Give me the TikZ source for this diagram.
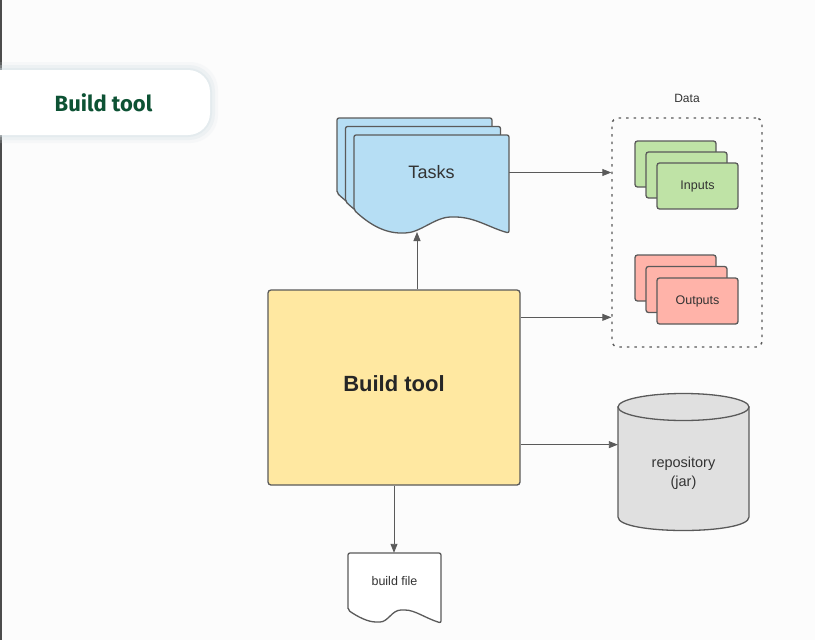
\documentclass[tikz,border=0pt]{standalone}
\usepackage{fontspec}
\setmainfont{Liberation Sans}
\newfontfamily\titlefont{Fira Sans}
\usetikzlibrary{positioning, arrows.meta}

\definecolor{edgegrey}{HTML}{5A5A5A}
\definecolor{textgrey}{HTML}{333333}
\definecolor{taskblue}{HTML}{B6DEF4}
\definecolor{buildyellow}{HTML}{FFE8A1}
\definecolor{inputgreen}{HTML}{BFE3A6}
\definecolor{outputred}{HTML}{FFB3A9}
\definecolor{repogrey}{HTML}{E0E0E0}
\definecolor{titlegreen}{HTML}{0D5234}
\definecolor{glowgrey}{HTML}{D5E0E6}

\tikzstyle{outline} = [draw=edgegrey, line width=1.3pt]
\tikzstyle{plain} = [text=textgrey, inner sep=0pt]
\tikzstyle{card} = [outline, rounded corners=2.5pt, minimum width=81pt, minimum height=46pt, text=textgrey, font=\fontsize{12.5}{14}\selectfont]
\tikzstyle{conn} = [draw=edgegrey, line width=0.9pt, -{Triangle[length=9pt, width=7pt]}]

% one sheet of the task stack, shifted by #1
\newcommand{\tasksheet}[1]{%
  \filldraw[outline, fill=taskblue, rounded corners=2pt, shift={(#1,#1)}]
    (354,210) -- (354,135) -- (509,135) -- (509,233)
    .. controls (490,228) and (475,217) .. (453,217)
    .. controls (435,217) and (420,233) .. (403,233)
    .. controls (385,233) and (370,225) .. (354,210) -- cycle;}

\begin{document}
\begin{tikzpicture}[x=1pt, y=-1pt]

    \useasboundingbox (0,0) rectangle (815,640);
    \fill[white!99!black] (0,0) rectangle (815,640);
    \draw[line width=2pt, color=black!70] (1,0) -- (1,640);

    % title card with a soft glow
    \fill[glowgrey, opacity=0.15, rounded corners=28pt] (-30,62) rectangle (218,143);
    \fill[glowgrey, opacity=0.25, rounded corners=26pt] (-30,65) rectangle (215,140);
    \fill[glowgrey, opacity=0.35, rounded corners=24pt] (-30,68) rectangle (212,137);
    \fill[white, rounded corners=22pt] (-30,70) rectangle (210,135);
    \node[font=\titlefont\bfseries\fontsize{22}{26}\selectfont, text=titlegreen] (title) at (103.5,103) {Build tool};

    % tasks
    \tasksheet{-17}
    \tasksheet{-8.5}
    \tasksheet{0}
    \node[plain, minimum width=155pt, minimum height=75pt, font=\fontsize{18}{20}\selectfont] (tasks) at (431.5,172.5) {Tasks};

    % build tool
    \node[outline, fill=buildyellow, rounded corners=3pt, minimum width=252pt, minimum height=195pt,
          text=black!85, text depth=8pt, font=\bfseries\fontsize{22}{26}\selectfont] (build) at (394,387.5) {Build tool};

    % data
    \node[draw=edgegrey, line width=1.4pt, dash pattern=on 2.5pt off 5pt, rounded corners=6pt,
          minimum width=150pt, minimum height=229pt] (data) at (687,232.5) {};
    \node[plain, above=14pt of data, font=\fontsize{12}{14}\selectfont] (datatitle) {Data};

    \node[card, fill=inputgreen] (inputs3) at (675.5,164) {};
    \node[card, fill=inputgreen] (inputs2) at (686.5,175) {};
    \node[card, fill=inputgreen] (inputs) at (697.5,186) {Inputs};

    \node[card, fill=outputred] (outputs3) at (675.5,278) {};
    \node[card, fill=outputred] (outputs2) at (686.5,289.5) {};
    \node[card, fill=outputred] (outputs) at (697.5,301) {Outputs};

    % repository
    \filldraw[outline, fill=repogrey] (618,407) -- (618,517)
        .. controls (618,535) and (749,535) .. (749,517) -- (749,407) -- cycle;
    \filldraw[outline, fill=repogrey] (683.5,407) ellipse [x radius=65.5, y radius=13.5];
    \node[plain, align=center, minimum width=131pt, font=\fontsize{14.5}{19}\selectfont] (repo) at (683.5,473) {repository\\(jar)};

    % build file
    \filldraw[outline, fill=white, rounded corners=2pt] (348,610) -- (348,553) -- (441,553) -- (441,623)
        .. controls (425,618) and (415,610) .. (403,610)
        .. controls (392,610) and (388,622) .. (378,622)
        .. controls (368,622) and (358,617) .. (348,610) -- cycle;
    \node[plain, minimum width=93pt, minimum height=57pt, font=\fontsize{12.5}{14}\selectfont] (bfile) at (394.5,581.5) {build file};

    % connectors
    \coordinate (tasksend) at (417,232);
    \draw[conn] (build.north -| tasksend) -- (tasksend);
    \draw[conn] (tasks.east) -- (tasks.east -| data.west);
    \draw[conn] ([yshift=-28pt]build.north east) -- ([yshift=-28pt]build.north east -| data.west);
    \draw[conn] ([yshift=41pt]build.south east) -- ([yshift=41pt]build.south east -| repo.west);
    \draw[conn] (build.south) -- (build.south |- bfile.north);

\end{tikzpicture}
\end{document}
